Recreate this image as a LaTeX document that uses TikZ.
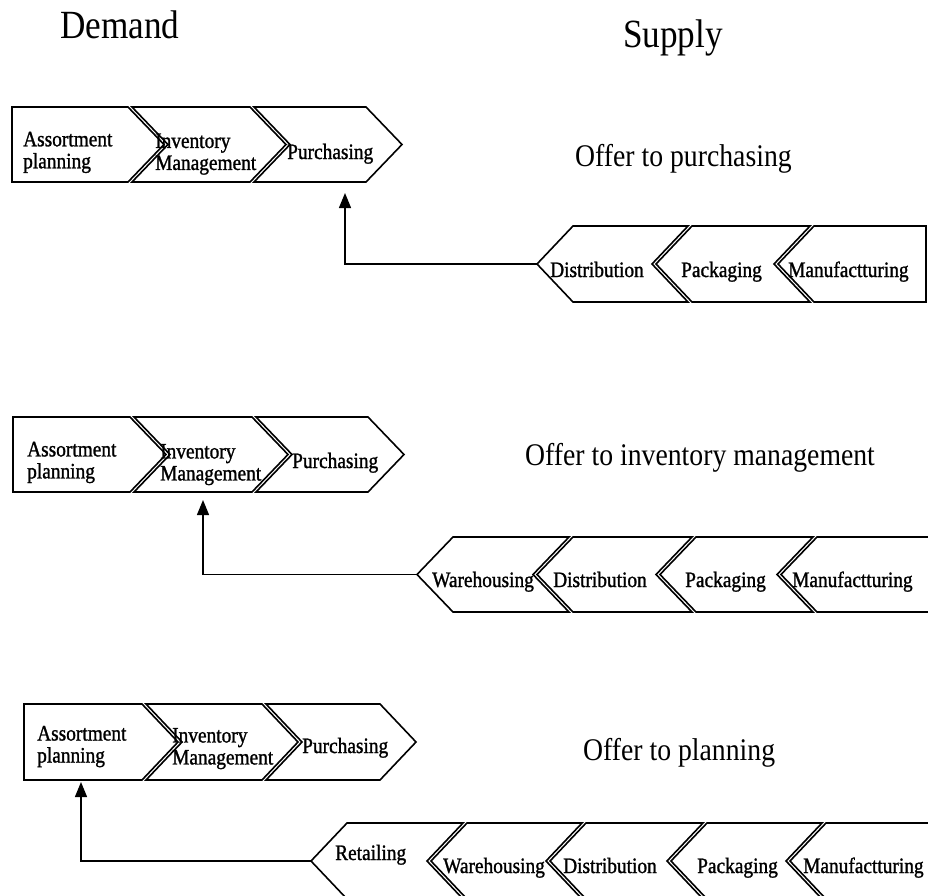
\documentclass[tikz,border=0pt]{standalone}
\usepackage{fontspec}
\setmainfont{Liberation Serif}
% slightly narrow serif faces: a heavier one for the step labels, a plain one for headings
\newfontfamily\capfont{Liberation Serif}[FakeStretch=0.88,FakeBold=1.2]
\newfontfamily\headfont{Liberation Serif}[FakeStretch=0.88]
\usetikzlibrary{arrows.meta}

% depth of the chevron points and notches
\newcommand\chevdepth{36}

% demand steps point to the right
\newcommand\demfirst[5]{% name, x left, x right corner, y top, y bottom
  \draw[chev] (#2,#4) -- (#3,#4) -- ({#3+\chevdepth},{(#4+#5)/2}) -- (#3,#5) -- (#2,#5) -- cycle;
  \coordinate (#1-tip) at ({#3+\chevdepth},{(#4+#5)/2});
}
\newcommand\demnext[5]{%
  \draw[chev] (#2,#4) -- (#3,#4) -- ({#3+\chevdepth},{(#4+#5)/2}) -- (#3,#5) -- (#2,#5)
    -- ({#2+\chevdepth},{(#4+#5)/2}) -- cycle;
  \coordinate (#1-tip) at ({#3+\chevdepth},{(#4+#5)/2});
}
% supply steps point to the left
\newcommand\supnext[5]{% name, x left corner, x right corner, y top, y bottom
  \draw[chev] (#2,#4) -- (#3,#4) -- ({#3-\chevdepth},{(#4+#5)/2}) -- (#3,#5) -- (#2,#5)
    -- ({#2-\chevdepth},{(#4+#5)/2}) -- cycle;
  \coordinate (#1-tip) at ({#2-\chevdepth},{(#4+#5)/2});
}
\newcommand\suplast[5]{%
  \draw[chev] (#2,#4) -- (#3,#4) -- (#3,#5) -- (#2,#5) -- ({#2-\chevdepth},{(#4+#5)/2}) -- cycle;
  \coordinate (#1-tip) at ({#2-\chevdepth},{(#4+#5)/2});
}

\begin{document}
\begin{tikzpicture}[x=1pt,y=-1pt,
  chev/.style={draw=black,fill=white,line width=1.6pt,line join=miter},
  flow/.style={draw=black,line width=1.3pt,-{Triangle[width=12pt,length=15pt]}},
  lbl/.style={inner sep=0pt,anchor=base west,font=\capfont\fontsize{22}{22}\selectfont},
  lbltwo/.style={inner sep=0pt,anchor=west,align=left,font=\capfont\fontsize{22}{22}\selectfont},
  title/.style={inner sep=0pt,anchor=base west,font=\headfont\fontsize{40}{44}\selectfont},
  offer/.style={inner sep=0pt,anchor=base west,font=\headfont\fontsize{31.5}{34}\selectfont}]
\useasboundingbox (0,0) rectangle (928,895);
\clip (0,0) rectangle (928,895);
\fill[white] (0,0) rectangle (928,895);

% headings
\node[title] (demand) at (60,38) {Demand};
\node[title] (supply) at (623,47) {Supply};

% ---------- offer to purchasing ----------
\demfirst{ap1}{12}{128}{107}{182}
\demnext{im1}{132}{250}{107}{182}
\demnext{pu1}{254}{366}{107}{182}
\node[lbltwo] (ap1l) at (23,152.4) {Assortment\\planning};
\node[lbltwo] (im1l) at (155,154.1) {Inventory\\Management};
\node[lbl] (pu1l) at (287,159) {Purchasing};
\node[offer] (offer1) at (575,166) {Offer to purchasing};

\supnext{di1}{573}{688}{226}{302}
\supnext{pa1}{692}{810}{226}{302}
\suplast{ma1}{814}{926}{226}{302}
\node[lbl] (di1l) at (550,277) {Distribution};
\node[lbl] (pa1l) at (681,277) {Packaging};
\node[lbl] (ma1l) at (788,277) {Manufactturing};

\coordinate (to1) at (345,193);
\draw[flow] (di1-tip) -| (to1);

% ---------- offer to inventory management ----------
\demfirst{ap2}{13}{130}{417}{492}
\demnext{im2}{134}{252}{417}{492}
\demnext{pu2}{256}{368}{417}{492}
\node[lbltwo] (ap2l) at (27,462.5) {Assortment\\planning};
\node[lbltwo] (im2l) at (160,464.6) {Inventory\\Management};
\node[lbl] (pu2l) at (292,468) {Purchasing};
\node[offer] (offer2) at (525,465) {Offer to inventory management};

\supnext{wa2}{453}{569}{537}{612}
\supnext{di2}{573}{692}{537}{612}
\supnext{pa2}{696}{813}{537}{612}
\suplast{ma2}{817}{932}{537}{612}
\node[lbl] (wa2l) at (432,587) {Warehousing};
\node[lbl] (di2l) at (553,587) {Distribution};
\node[lbl] (pa2l) at (685,587) {Packaging};
\node[lbl] (ma2l) at (792,587) {Manufactturing};

\coordinate (to2) at (203,500);
\draw[flow] (wa2-tip) -| (to2);

% ---------- offer to planning ----------
\demfirst{ap3}{24}{142}{704}{780}
\demnext{im3}{146}{262}{704}{780}
\demnext{pu3}{266}{380}{704}{780}
\node[lbltwo] (ap3l) at (37,746.6) {Assortment\\planning};
\node[lbltwo] (im3l) at (172,748.6) {Inventory\\Management};
\node[lbl] (pu3l) at (302,753) {Purchasing};
\node[offer] (offer3) at (583,760) {Offer to planning};

\supnext{re3}{347}{463}{823}{899}
\supnext{wa3}{467}{582}{823}{899}
\supnext{di3}{586}{703}{823}{899}
\supnext{pa3}{707}{822}{823}{899}
\suplast{ma3}{826}{940}{823}{899}
\node[lbl] (re3l) at (335,860) {Retailing};
\node[lbl] (wa3l) at (443,873) {Warehousing};
\node[lbl] (di3l) at (563,873) {Distribution};
\node[lbl] (pa3l) at (697,873) {Packaging};
\node[lbl] (ma3l) at (803,873) {Manufactturing};

\coordinate (to3) at (81,782);
\draw[flow] (re3-tip) -| (to3);
\end{tikzpicture}
\end{document}
